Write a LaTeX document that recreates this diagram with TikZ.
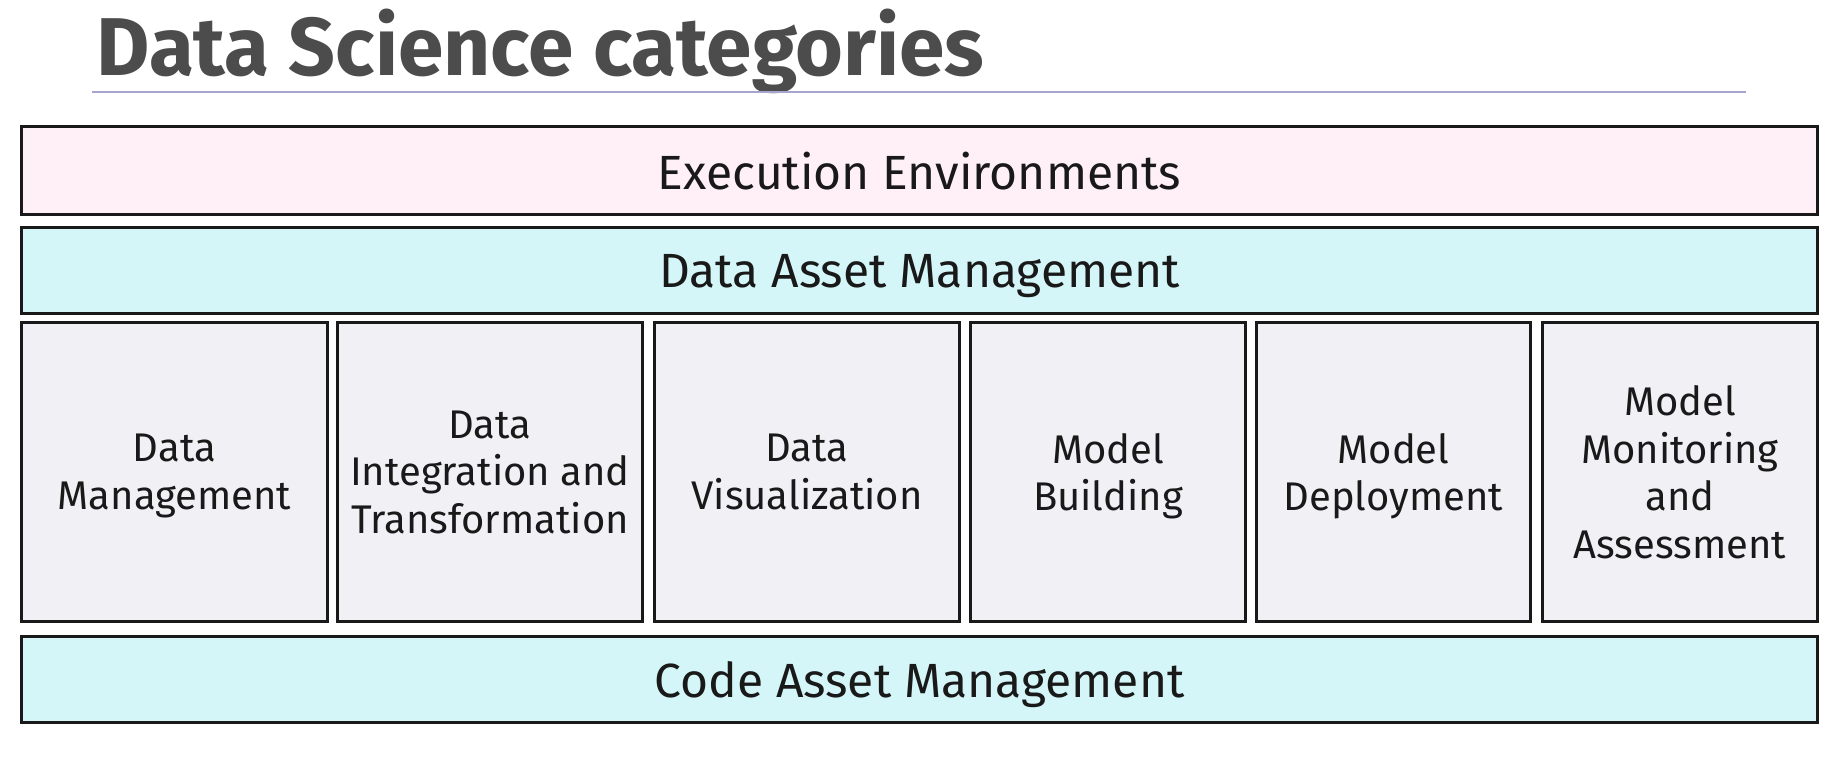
\documentclass[tikz,border=0pt]{standalone}
\usepackage{fontspec}
\setmainfont{Fira Sans}
\definecolor{pinkfill}{RGB}{255,240,247}
\definecolor{cyanfill}{RGB}{212,246,248}
\definecolor{grayfill}{RGB}{241,241,245}
\definecolor{titlegray}{RGB}{76,76,76}
\definecolor{rulecol}{RGB}{165,165,205}
\definecolor{edgecol}{RGB}{25,25,25}
\begin{document}
\begin{tikzpicture}[x=0.5pt,y=-0.5pt,
  box/.style={draw=edgecol, line width=1.5pt, rectangle, inner sep=0pt, align=center,
    text depth=0pt, text=black!90},
  band/.style={box, minimum width=898pt, font=\fontsize{24}{24}\selectfont},
  cell/.style={box, fill=grayfill, minimum height=149.5pt, font=\fontsize{20}{23.8}\selectfont}]
\useasboundingbox[fill=white] (0,0) rectangle (1844,769);
\node[anchor=base west, text=titlegray, inner sep=0pt, font=\fontsize{41}{41}\selectfont\bfseries] (title) at (96,76) {Data Science categories};
\coordinate (rl) at (92,92);
\coordinate (rr) at (1746,92);
\draw[rulecol, line width=1pt] (rl) -- (rr);
\node[band, fill=pinkfill, minimum height=44pt] (exec) at (919.5,170.5) {Execution Environments};
\node[band, fill=cyanfill, minimum height=43pt] (dam) at (919.5,270.5) {Data Asset Management};
\node[cell, minimum width=153pt] (c1) at (174.5,472) {Data\\Management};
\node[cell, minimum width=152.5pt] (c2) at (490,472) {Data\\Integration and\\Transformation};
\node[cell, minimum width=152.5pt] (c3) at (807,472) {Data\\Visualization};
\node[cell, minimum width=137.5pt] (c4) at (1108,472) {Model\\Building};
\node[cell, minimum width=137pt] (c5) at (1393.5,472) {Model\\Deployment};
\node[cell, minimum width=137.5pt] (c6) at (1680,472) {Model\\Monitoring\\and\\Assessment};
\node[band, fill=cyanfill, minimum height=43pt] (cam) at (919.5,679.5) {Code Asset Management};
\end{tikzpicture}
\end{document}
